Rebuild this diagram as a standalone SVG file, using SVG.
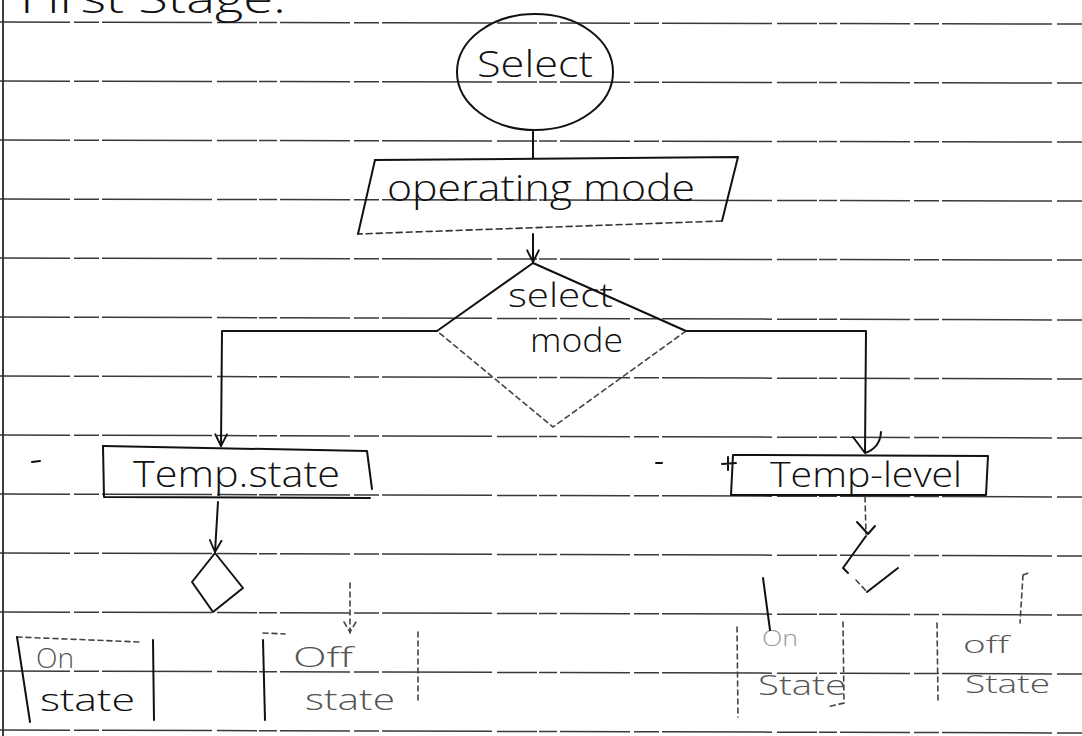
<svg xmlns="http://www.w3.org/2000/svg" width="1082" height="736" viewBox="0 0 1082 736">
  <style>
    .paper { fill: #ffffff; }
    .rule { stroke: #3a3a3a; stroke-width: 1.5; fill: none; stroke-dasharray: 70 4 25 3 110 5 40 2 18 3; }
    .margin { stroke: #2a2a2a; stroke-width: 1.8; fill: none; }
    .ink { stroke: #111; stroke-width: 2; fill: none; stroke-linecap: round; stroke-linejoin: round; }
    .ink-dash { stroke: #333; stroke-width: 1.6; fill: none; stroke-dasharray: 6 4; stroke-linecap: round; }
    .faint { stroke: #444; stroke-width: 1.6; fill: none; stroke-dasharray: 5 4; stroke-linecap: round; }
    .hand { font-family: "Open Sans", "DejaVu Sans", sans-serif; font-weight: 300; fill: #111; }
    .hand-faint { font-family: "Open Sans", "DejaVu Sans", sans-serif; font-weight: 300; fill: #555; }
  </style>
  <defs>
    <marker id="vhead" viewBox="0 0 12 12" refX="11" refY="6" markerWidth="14" markerHeight="14" markerUnits="userSpaceOnUse" orient="auto">
      <path d="M1,1 L11,6 L1,11" fill="none" stroke="#111" stroke-width="1.6" stroke-linecap="round"/>
    </marker>
  </defs>

  <rect class="paper" x="0" y="0" width="1082" height="736"/>

  <!-- ruled notebook paper -->
  <g id="paper-lines">
    <line class="rule" x1="0" y1="22" x2="1082" y2="24"/>
    <line class="rule" x1="0" y1="81" x2="1082" y2="83"/>
    <line class="rule" x1="0" y1="140" x2="1082" y2="142"/>
    <line class="rule" x1="0" y1="199" x2="1082" y2="201"/>
    <line class="rule" x1="0" y1="258" x2="1082" y2="260"/>
    <line class="rule" x1="0" y1="317" x2="1082" y2="320"/>
    <line class="rule" x1="0" y1="376" x2="1082" y2="379"/>
    <line class="rule" x1="0" y1="435" x2="1082" y2="438"/>
    <line class="rule" x1="0" y1="494" x2="1082" y2="497"/>
    <line class="rule" x1="0" y1="553" x2="1082" y2="556"/>
    <line class="rule" x1="0" y1="612" x2="1082" y2="615"/>
    <line class="rule" x1="0" y1="671" x2="1082" y2="674"/>
    <line class="rule" x1="0" y1="730" x2="1082" y2="733"/>
    <line class="margin" x1="3" y1="0" x2="3" y2="736"/>
  </g>

  <!-- heading, cut by the top edge of the sheet -->
  <g id="title">
    <text class="hand" x="20" y="13" font-size="40" textLength="266" lengthAdjust="spacingAndGlyphs">First Stage:</text>
  </g>

  <!-- start terminal -->
  <g id="select">
    <ellipse class="ink" cx="535" cy="72" rx="78" ry="58"/>
    <text class="hand" x="535" y="77" font-size="36" text-anchor="middle" textLength="116" lengthAdjust="spacingAndGlyphs">Select</text>
  </g>

  <!-- input parallelogram -->
  <g id="operating-mode">
    <path class="ink" d="M375,160 L738,157 L722,221"/>
    <path class="ink-dash" d="M722,221 L358,234"/>
    <path class="ink" d="M358,234 L375,160"/>
    <text class="hand" x="387" y="201" font-size="37" textLength="308" lengthAdjust="spacingAndGlyphs">operating mode</text>
  </g>

  <!-- mode decision -->
  <g id="select-mode">
    <path class="ink" d="M437,331 L533,263 L686,331"/>
    <path class="faint" d="M686,331 L553,427 L437,331"/>
    <text class="hand" x="508" y="307" font-size="33" textLength="105" lengthAdjust="spacingAndGlyphs">select</text>
    <text class="hand" x="530" y="352" font-size="33" textLength="93" lengthAdjust="spacingAndGlyphs">mode</text>
  </g>

  <!-- manual branch process -->
  <g id="temp-state">
    <path class="ink" d="M103,446 L367,451 L372,489"/>
    <path class="ink" d="M103,446 L104,497 L370,498"/>
    <text class="hand" x="133" y="487" font-size="37" textLength="207" lengthAdjust="spacingAndGlyphs">Temp.state</text>
  </g>

  <!-- auto branch process -->
  <g id="temp-level">
    <path class="ink" d="M733,455 L988,456 L986,495 L731,495 Z"/>
    <path class="ink" d="M722,464 L736,463 M728,457 L728,470"/>
    <text class="hand" x="770" y="487" font-size="35" textLength="192" lengthAdjust="spacingAndGlyphs">Temp-level</text>
  </g>

  <!-- small decision below Temp.state -->
  <g id="state-decision">
    <path class="ink" d="M215,553 L192,582 L213,612 L243,588 Z"/>
  </g>

  <!-- small decision below Temp-level -->
  <g id="level-decision">
    <path class="ink" d="M866,536 L843,568 L848,573"/>
    <path class="faint" d="M856,580 L867,592"/>
    <path class="ink" d="M867,592 L898,568"/>
  </g>

  <!-- result boxes -->
  <g id="on-state-manual">
    <path class="faint" d="M17,637 L140,642"/>
    <path class="ink" d="M17,637 L30,722"/>
    <path class="ink" d="M153,640 L154,720"/>
    <text class="hand-faint" x="36" y="668" font-size="28" textLength="38" lengthAdjust="spacingAndGlyphs">On</text>
    <text class="hand" x="40" y="711" font-size="32" textLength="95" lengthAdjust="spacingAndGlyphs">state</text>
  </g>

  <g id="off-state-manual">
    <path class="ink" d="M263,640 L265,720"/>
    <path class="faint" d="M263,633 L285,634"/>
    <path class="faint" d="M418,632 L418,700"/>
    <text class="hand-faint" x="293" y="667" font-size="28" textLength="60" lengthAdjust="spacingAndGlyphs">Off</text>
    <text class="hand-faint" x="305" y="710" font-size="30" textLength="90" lengthAdjust="spacingAndGlyphs">state</text>
  </g>

  <g id="on-state-auto">
    <path class="faint" d="M737,627 L738,717"/>
    <path class="faint" d="M843,622 L844,703 L827,707"/>
    <text class="hand-faint" x="762" y="646" font-size="22" textLength="36" lengthAdjust="spacingAndGlyphs" opacity="0.6">On</text>
    <text class="hand-faint" x="758" y="695" font-size="28" textLength="88" lengthAdjust="spacingAndGlyphs">State</text>
  </g>

  <g id="off-state-auto">
    <path class="faint" d="M937,623 L938,700"/>
    <text class="hand-faint" x="963" y="653" font-size="24" textLength="46" lengthAdjust="spacingAndGlyphs">off</text>
    <text class="hand-faint" x="965" y="693" font-size="26" textLength="85" lengthAdjust="spacingAndGlyphs">State</text>
  </g>

  <!-- flow lines -->
  <g id="connectors">
    <line class="ink" x1="533" y1="130" x2="533" y2="158"/>
    <line class="ink" x1="533" y1="234" x2="533" y2="262" marker-end="url(#vhead)"/>
    <polyline class="ink" points="437,331 222,331 221,446" marker-end="url(#vhead)"/>
    <polyline class="ink" points="686,331 866,331 865,452"/>
    <path class="ink" d="M853,437 L865,453 Q880,448 881,432"/>
    <line class="ink" x1="218" y1="502" x2="215" y2="552" marker-end="url(#vhead)"/>
    <line class="faint" x1="865" y1="497" x2="866" y2="534"/>
    <path class="ink" d="M857,522 L868,534 L875,526"/>
    <line class="faint" x1="350" y1="583" x2="350" y2="633"/>
    <path class="faint" d="M344,622 L350,632 L356,622"/>
    <line class="ink" x1="763" y1="578" x2="770" y2="630"/>
    <path class="faint" d="M1023,575 L1020,623 M1023,575 L1028,573"/>
  </g>

  <!-- stray pencil marks -->
  <g id="marks">
    <line class="ink" x1="32" y1="462" x2="40" y2="461" stroke-width="1.4"/>
    <line class="ink" x1="656" y1="463" x2="662" y2="463" stroke-width="1.4"/>
  </g>
</svg>
